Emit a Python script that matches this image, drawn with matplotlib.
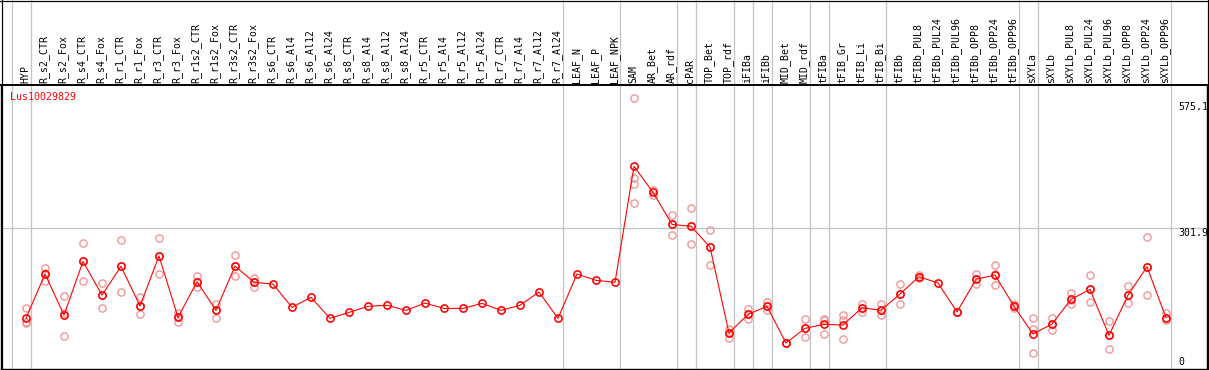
import matplotlib
matplotlib.use('Agg')
import matplotlib.pyplot as plt
from matplotlib.transforms import blended_transform_factory
from matplotlib.lines import Line2D

title = 'Lus10029829'

samples = ['HYP', 'R_s2_CTR', 'R_s2_Fox', 'R_s4_CTR', 'R_s4_Fox', 'R_r1_CTR', 'R_r1_Fox',
           'R_r3_CTR', 'R_r3_Fox', 'R_r1s2_CTR', 'R_r1s2_Fox', 'R_r3s2_CTR', 'R_r3s2_Fox',
           'R_s6_CTR', 'R_s6_Al4', 'R_s6_Al12', 'R_s6_Al24', 'R_s8_CTR', 'R_s8_Al4',
           'R_s8_Al12', 'R_s8_Al24', 'R_r5_CTR', 'R_r5_Al4', 'R_r5_Al12', 'R_r5_Al24',
           'R_r7_CTR', 'R_r7_Al4', 'R_r7_Al12', 'R_r7_Al24', 'LEAF_N', 'LEAF_P', 'LEAF_NPK',
           'SAM', 'AR_Bet', 'AR_rdf', 'cPAR', 'TOP_Bet', 'TOP_rdf', 'iFIBa', 'iFIBb',
           'MID_Bet', 'MID_rdf', 'tFIBa', 'tFIB_Gr', 'tFIB_Li', 'tFIB_Bi', 'tFIBb',
           'tFIBb_PUL8', 'tFIBb_PUL24', 'tFIBb_PUL96', 'tFIBb_OPP8', 'tFIBb_OPP24',
           'tFIBb_OPP96', 'sXYLa', 'sXYLb', 'sXYLb_PUL8', 'sXYLb_PUL24', 'sXYLb_PUL96',
           'sXYLb_OPP8', 'sXYLb_OPP24', 'sXYLb_OPP96']

means = [98.6, 198.7, 106, 227, 151, 216, 126.4, 239.3, 100.8, 181.3, 116.6, 216.7, 180,
         176, 123.4, 146, 98.6, 112, 125.7, 128, 116.6, 133, 121, 121, 132.4, 116.6, 128,
         158, 98.6, 198.7, 184.4, 180,
         441.8, 383, 310.8, 306.3, 259.7, 65.5, 107.6, 125.7, 42.9, 76, 85, 83.5, 122.6,
         116.6, 153.5, 192.6, 178.4, 113, 186.7, 196.4, 125.7, 63.2, 85.8, 141.5, 164,
         60.2, 151, 215, 100]

replicates = [[121, 90, 87], [212, 200, 184], [148, 59, 111], [268, 227, 184],
              [178, 151, 123], [275, 216, 157], [147, 126, 108], [279, 239, 198],
              [111, 101, 91], [194, 181, 170], [132, 117, 100], [241, 217, 194],
              [189, 180, 170],
              [], [], [], [], [], [], [], [], [], [], [], [], [], [], [], [], [], [], [],
              [595, 415, 401, 358], [388, 377], [333, 311, 286], [347, 306, 266],
              [297, 260, 219], [75, 66, 54], [119, 108, 97], [135, 126, 117], [44, 42],
              [97, 76, 56], [98, 94, 63], [105, 95, 51], [132, 122, 114], [131, 117, 105],
              [175, 154, 132], [196, 193, 189], [], [114, 112], [199, 187, 176],
              [218, 198, 173], [131, 126, 121], [99, 74, 20], [99, 86, 72],
              [156, 141, 130], [196, 164, 135], [92, 60, 29], [171, 151, 133],
              [282, 215, 151], [111, 100, 94]]

group_ends = [-1, 0, 28, 31, 34, 35, 37, 38, 39, 41, 42, 45, 52, 53, 60]
y_ticks = [0, 301.9, 575.1]
grid_value = 301.9

W, H = 1209, 370
fig = plt.figure(figsize=(W / 100, H / 100), dpi=100)
ax_top, ax_bot = 85, 369
ax = fig.add_axes([1 / W, (H - ax_bot) / H, 1206 / W, (ax_bot - ax_top) / H])
px_per_col = 19.0
x0_px = 26.0
ax.set_xlim((1 - x0_px) / px_per_col, (1207 - x0_px) / px_per_col)
scale = 0.4429
ax.set_ylim((362 - ax_bot) / scale, (362 - ax_top) / scale)
ax.set_xticks([])
ax.set_yticks([])
for s in ax.spines.values():
    s.set_color('black')
    s.set_linewidth(1.0)
ax.spines['top'].set_linewidth(1.4)

px = 0.72
grid_col = '#c4c4c4'
ymax_ext = (ax_bot - 0) / (ax_bot - ax_top)
for e in group_ends:
    ax.axvline(e + 0.24, ymin=0, ymax=ymax_ext, color=grid_col, lw=1.3 * px,
               clip_on=False, zorder=1)
ax.axhline(grid_value, color=grid_col, lw=1.3 * px, zorder=1)

mk = 5.2
rep_col = '#f09898'
for i, reps in enumerate(replicates):
    if reps:
        ax.plot([i] * len(reps), reps, 'o', ms=mk, mfc='none', mec=rep_col,
                mew=1.4 * px, zorder=2, clip_on=False)

xs = list(range(len(samples)))
ax.plot(xs, means, '-', color='#ff0000', lw=1.1 * px, zorder=3)
ax.plot(xs, means, 'o', ms=mk, mfc='none', mec='#ff0000', mew=1.6 * px, zorder=4)

font = dict(family='DejaVu Sans Mono', size=7.1)
tr = blended_transform_factory(ax.transData, fig.transFigure)
for i, lab in enumerate(samples):
    ax.text(i - 0.05, (H - 82.7) / H, lab, rotation=90, ha='center', va='bottom',
            transform=tr, clip_on=False, **font)

fig.text(10 / W, (H - 96.7) / H, title, color='#ff0000', ha='left', va='center', **font)

trr = blended_transform_factory(fig.transFigure, ax.transData)
for v in y_ticks:
    va = 'top' if v == grid_value else 'center'
    ax.text(1178 / W, v, f'{v:g}', ha='left', va=va, transform=trr, **font)

fig.add_artist(Line2D([0, 1], [1 - 0.6 / H] * 2, transform=fig.transFigure,
                      color='black', lw=1.2 * px))
fig.add_artist(Line2D([1.5 / W] * 2, [0, 1], transform=fig.transFigure,
                      color='black', lw=1.2 * px))
fig.add_artist(Line2D([1207.5 / W] * 2, [0, 1], transform=fig.transFigure,
                      color='black', lw=1.2 * px))

fig.savefig('out.png', dpi=100, facecolor='white')
